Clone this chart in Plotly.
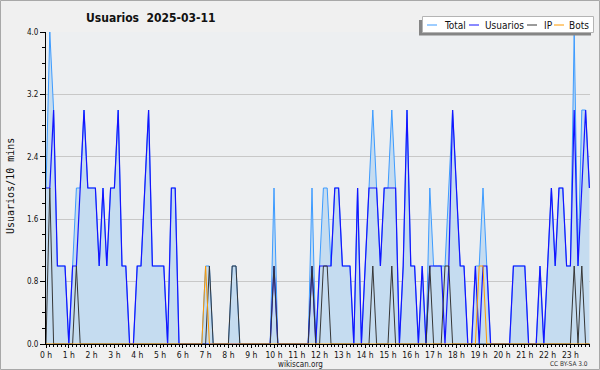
import plotly.graph_objects as go

# ---------------- data ----------------
hour_labels = [f"{h} h" for h in range(24)]
y_ticks = [0.0, 0.8, 1.6, 2.4, 3.2, 4.0]

# one value every 10 minutes, 6 per hour, 0 h .. 23 h 50
total = [
    2, 4, 3, 1, 1, 1,   0, 1, 2, 2, 3, 2,   # 0 h, 1 h
    2, 2, 1, 2, 1, 2,   2, 3, 1, 1, 0, 0,   # 2 h, 3 h
    1, 1, 2, 3, 1, 1,   1, 1, 0, 2, 2, 0,   # 4 h, 5 h
    0, 0, 0, 0, 0, 0,   1, 1, 0, 0, 0, 0,   # 6 h, 7 h
    0, 1, 1, 0, 0, 0,   0, 0, 0, 0, 0, 0,   # 8 h, 9 h
    2, 0, 0, 0, 0, 0,   0, 0, 0, 0, 2, 0,   # 10 h, 11 h
    1, 2, 2, 1, 2, 2,   1, 1, 1, 0, 2, 0,   # 12 h, 13 h
    1, 2, 3, 2, 1, 2,   2, 3, 2, 0, 1, 3,   # 14 h, 15 h
    1, 1, 0, 1, 0, 2,   1, 1, 1, 1, 2, 3,   # 16 h, 17 h
    2, 1, 1, 0, 0, 1,   1, 2, 1, 0, 0, 0,   # 18 h, 19 h
    0, 0, 0, 1, 1, 1,   1, 0, 0, 0, 1, 0,   # 20 h, 21 h
    1, 2, 1, 2, 2, 1,   1, 4, 1, 3, 3, 2,   # 22 h, 23 h
]
usuarios = [
    2, 2, 3, 1, 1, 1,   0, 1, 1, 2, 3, 2,
    2, 2, 1, 2, 1, 2,   2, 3, 1, 1, 0, 0,
    1, 1, 2, 3, 1, 1,   1, 1, 0, 2, 2, 0,
    0, 0, 0, 0, 0, 0,   0, 0, 0, 0, 0, 0,
    0, 0, 0, 0, 0, 0,   0, 0, 0, 0, 0, 0,
    1, 0, 0, 0, 0, 0,   0, 0, 0, 0, 1, 0,
    1, 1, 1, 1, 2, 2,   1, 1, 1, 0, 2, 0,
    1, 2, 2, 2, 1, 2,   2, 2, 2, 0, 1, 3,
    1, 1, 0, 1, 0, 1,   1, 1, 1, 0, 1, 3,
    2, 1, 1, 0, 0, 1,   0, 1, 1, 0, 0, 0,
    0, 0, 0, 1, 1, 1,   1, 0, 0, 0, 1, 0,
    1, 2, 1, 2, 2, 1,   1, 3, 1, 2, 3, 2,
]
ip = [
    0, 2, 0, 0, 0, 0,   0, 0, 1, 0, 0, 0,
    0, 0, 0, 0, 0, 0,   0, 0, 0, 0, 0, 0,
    0, 0, 0, 0, 0, 0,   0, 0, 0, 0, 0, 0,
    0, 0, 0, 0, 0, 0,   0, 1, 0, 0, 0, 0,
    0, 1, 1, 0, 0, 0,   0, 0, 0, 0, 0, 0,
    1, 0, 0, 0, 0, 0,   0, 0, 0, 0, 1, 0,
    0, 1, 1, 0, 0, 0,   0, 0, 0, 0, 0, 0,
    0, 0, 1, 0, 0, 0,   0, 1, 0, 0, 0, 0,
    0, 0, 0, 0, 0, 1,   0, 0, 0, 1, 1, 0,
    0, 0, 0, 0, 0, 0,   0, 0, 0, 0, 0, 0,
    0, 0, 0, 0, 0, 0,   0, 0, 0, 0, 0, 0,
    0, 0, 0, 0, 0, 0,   0, 1, 0, 1, 0, 0,
]
bots = [
    0, 0, 0, 0, 0, 0,   0, 0, 0, 0, 0, 0,
    0, 0, 0, 0, 0, 0,   0, 0, 0, 0, 0, 0,
    0, 0, 0, 0, 0, 0,   0, 0, 0, 0, 0, 0,
    0, 0, 0, 0, 0, 0,   1, 0, 0, 0, 0, 0,
    0, 0, 0, 0, 0, 0,   0, 0, 0, 0, 0, 0,
    0, 0, 0, 0, 0, 0,   0, 0, 0, 0, 0, 0,
    0, 0, 0, 0, 0, 0,   0, 0, 0, 0, 0, 0,
    0, 0, 0, 0, 0, 0,   0, 0, 0, 0, 0, 0,
    0, 0, 0, 0, 0, 0,   0, 0, 0, 0, 0, 0,
    0, 0, 0, 0, 0, 0,   1, 1, 0, 0, 0, 0,
    0, 0, 0, 0, 0, 0,   0, 0, 0, 0, 0, 0,
    0, 0, 0, 0, 0, 0,   0, 0, 0, 0, 0, 0,
]
series_names = ["Total", "Usuarios", "IP", "Bots"]

# ---------------- style ----------------
C_TOTAL = "#3d9bff"
C_FILL = "#c5dcf0"
C_USU = "#1414ff"
C_IP = "#363636"
C_BOTS = "#ff9a00"
colors = [C_TOTAL, C_USU, C_IP, C_BOTS]

W, H = 600, 370
ML, MR, MT, MB = 46, 10, 32, 26
PW, PH = W - ML - MR, H - MT - MB
NARROW = "DejaVu Sans Condensed, Liberation Sans Narrow, DejaVu Sans, sans-serif"


def px(x):
    return (x - ML) / PW


def py(y):
    return (H - MB - y) / PH


x = [i / 6 for i in range(len(total))]

fig = go.Figure()
fig.add_trace(go.Scatter(x=x, y=total, mode="lines", fill="tozeroy", fillcolor=C_FILL,
                         line=dict(color=C_TOTAL, width=1), name="Total", showlegend=False))
fig.add_trace(go.Scatter(x=x, y=usuarios, mode="lines", line=dict(color=C_USU, width=1.2),
                         name="Usuarios", showlegend=False))
fig.add_trace(go.Scatter(x=x, y=ip, mode="lines", line=dict(color=C_IP, width=1),
                         name="IP", showlegend=False))
fig.add_trace(go.Scatter(x=x, y=bots, mode="lines", line=dict(color=C_BOTS, width=1),
                         name="Bots", showlegend=False))

minor_x = [i / 6 for i in range(len(total)) if i % 6]

fig.update_layout(
    width=W, height=H,
    margin=dict(l=ML, r=MR, t=MT, b=MB, pad=0),
    paper_bgcolor="#f0f0f0",
    plot_bgcolor="#edeff1",
    font=dict(family=NARROW, size=9, color="#111"),
    xaxis=dict(
        range=[0, PW / 3.8 / 6], tickmode="array",
        tickvals=list(range(24)), ticktext=hour_labels,
        ticks="outside", ticklen=3, tickcolor="#000", tickwidth=1,
        showline=True, linecolor="#000", linewidth=1, showgrid=False, zeroline=False,
        tickfont=dict(family=NARROW, size=8.5, color="#111"),
        minor=dict(tickmode="array", tickvals=minor_x, ticks="outside", ticklen=2,
                   tickcolor="#000", showgrid=False),
    ),
    yaxis=dict(
        range=[0, 4.0], tickmode="array", tickvals=y_ticks,
        ticktext=[f"{v:.1f}" for v in y_ticks],
        ticks="outside", ticklen=5, tickcolor="#000", tickwidth=1,
        showline=True, linecolor="#000", linewidth=1,
        showgrid=True, gridcolor="#c8c8c8", gridwidth=1, zeroline=False,
        tickfont=dict(family=NARROW, size=8, color="#111"),
        minor=dict(dtick=0.2, ticks="outside", ticklen=3, tickcolor="#000", showgrid=False),
    ),
)

shapes = []
ann = []
# outer frame
shapes.append(dict(type="rect", xref="paper", yref="paper",
                   x0=px(0.5), x1=px(W - 0.5), y0=py(0.5), y1=py(H - 0.5),
                   line=dict(color="#a8a8a8", width=1), fillcolor="rgba(0,0,0,0)", layer="above"))

# title
ann.append(dict(text="<b>Usuarios  2025-03-11</b>", xref="paper", yref="paper",
                x=px(84), y=py(18), xanchor="left", yanchor="middle", showarrow=False,
                font=dict(family=NARROW, size=12, color="#111")))
# y axis title
ann.append(dict(text="Usuarios/10 mins", xref="paper", yref="paper",
                x=px(10), y=py(186), xanchor="center", yanchor="middle", showarrow=False,
                textangle=-90, font=dict(family="DejaVu Sans Mono, monospace", size=10, color="#111")))
# footer
ann.append(dict(text="wikiscan.org", xref="paper", yref="paper",
                x=px(300), y=py(364), xanchor="center", yanchor="middle", showarrow=False,
                font=dict(family=NARROW, size=8, color="#222")))
ann.append(dict(text="CC BY-SA 3.0", xref="paper", yref="paper",
                x=px(590), y=py(364), xanchor="right", yanchor="middle", showarrow=False,
                font=dict(family=NARROW, size=6.5, color="#333")))

# legend box (shadow + white box)
shapes.append(dict(type="rect", xref="paper", yref="paper",
                   x0=px(419), x1=px(591), y0=py(20), y1=py(35.5),
                   line=dict(width=0), fillcolor="#858585", layer="above"))
shapes.append(dict(type="rect", xref="paper", yref="paper",
                   x0=px(422.5), x1=px(593.5), y0=py(16.5), y1=py(32.5),
                   line=dict(color="#b4b4b4", width=1), fillcolor="#ffffff", layer="above"))
leg_line_x = [427, 469, 527, 554]
leg_text_x = [442, 483, 542, 567]
for name, col, lx, tx in zip(series_names, colors, leg_line_x, leg_text_x):
    shapes.append(dict(type="line", xref="paper", yref="paper",
                       x0=px(lx), x1=px(lx + 10), y0=py(25), y1=py(25),
                       line=dict(color=col, width=1), layer="above"))
    ann.append(dict(text=name, xref="paper", yref="paper", x=px(tx), y=py(25),
                    xanchor="left", yanchor="middle", showarrow=False,
                    font=dict(family=NARROW, size=10, color="#111")))

fig.update_layout(shapes=shapes, annotations=ann)
fig.write_html("out.html", config={"displayModeBar": False},
               post_script="document.body.style.margin='0';document.body.style.overflow='hidden';")
